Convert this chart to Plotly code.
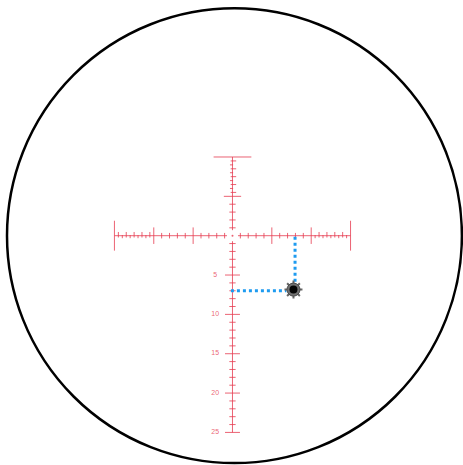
import plotly.graph_objects as go

# ---- data (reticle units, MOA-like) ----
h_extent = 15
v_top = 10
v_bottom = 25
h_minor_ticks = [-9, -8, -7, -6, -4, -3, -2, -1, 1, 2, 3, 4, 6, 7, 8, 9]
h_major_ticks = [-10, -5, 5, 10]
h_fine_ticks = [-14.5, -14, -13.5, -13, -12.5, -12, -11.5, -11, -10.5,
                10.5, 11, 11.5, 12, 12.5, 13, 13.5, 14, 14.5]
v_up_minor = [1, 2, 3, 4]
v_up_major = [5]
v_up_fine = [5.5, 6, 6.5, 7, 7.5, 8, 8.5, 9, 9.5]
v_down_minor = [1, 2, 3, 4, 6, 7, 8, 9, 11, 12, 13, 14, 16, 17, 18, 19, 21, 22, 23, 24]
v_down_major = [5, 10, 15, 20, 25]
v_labels = ["5", "10", "15", "20", "25"]
hit_x, hit_y = 7.75, -6.85
hold_x, hold_y = 7.95, -7

RED = "rgba(230,60,80,0.8)"
BLUE = "#1e9bf0"

fig = go.Figure()

def seg_trace(xs, ys, color=RED, width=1):
    fig.add_trace(go.Scatter(x=xs, y=ys, mode="lines", line=dict(color=color, width=width),
                             hoverinfo="skip", showlegend=False))

xs, ys = [], []
xs += [-h_extent, -0.7, None, 0.7, h_extent, None]
ys += [0, 0, None, 0, 0, None]
xs += [0, 0, None, 0, 0, None]
ys += [v_top, 0.7, None, -0.7, -v_bottom, None]
for e in (-h_extent, h_extent):
    xs += [e, e, None]; ys += [-1.9, 1.9, None]
xs += [-2.4, 2.4, None]; ys += [v_top, v_top, None]
for t in h_minor_ticks:
    xs += [t, t, None]; ys += [-0.35, 0.35, None]
for t in h_major_ticks:
    xs += [t, t, None]; ys += [-1.05, 1.05, None]
for i, t in enumerate(h_fine_ticks):
    h = 0.35 if i % 2 == 0 else 0.2
    off = 0.12 if i % 2 == 0 else -0.12
    xs += [t, t, None]; ys += [off - h, off + h, None]
for t in v_up_minor:
    xs += [-0.4, 0.4, None]; ys += [t, t, None]
for t in v_up_major:
    xs += [-1.1, 1.1, None]; ys += [t, t, None]
for i, t in enumerate(v_up_fine):
    w = 0.35 if i % 2 == 0 else 0.2
    off = 0.12 if i % 2 == 0 else -0.12
    xs += [off - w, off + w, None]; ys += [t, t, None]
for t in v_down_minor:
    xs += [-0.4, 0.4, None]; ys += [-t, -t, None]
for t in v_down_major:
    xs += [-0.95, 0.95, None]; ys += [-t, -t, None]
seg_trace(xs, ys)

fig.add_trace(go.Scatter(x=[0], y=[0], mode="markers", marker=dict(color=RED, size=2),
                         hoverinfo="skip", showlegend=False))

fig.add_trace(go.Scatter(x=[-2.2] * len(v_labels), y=[-t for t in v_down_major], mode="text",
                         text=v_labels, textfont=dict(color=RED, size=7, family="Liberation Sans Narrow, Liberation Sans"),
                         hoverinfo="skip", showlegend=False))

fig.add_trace(go.Scatter(x=[hold_x, hold_x], y=[-0.15, hit_y + 0.85], mode="lines",
                         line=dict(color=BLUE, width=3, dash="dot"), hoverinfo="skip", showlegend=False))
fig.add_trace(go.Scatter(x=[-0.2, hit_x - 0.9], y=[hold_y, hold_y], mode="lines",
                         line=dict(color=BLUE, width=3, dash="dot"), hoverinfo="skip", showlegend=False))

# bullet hole
fig.add_trace(go.Scatter(x=[hit_x], y=[hit_y], mode="markers",
                         marker=dict(symbol="asterisk-open", size=15, color="#666666",
                                     line=dict(color="#666666", width=2)),
                         hoverinfo="skip", showlegend=False))
fig.add_trace(go.Scatter(x=[hit_x], y=[hit_y], mode="markers",
                         marker=dict(symbol="circle", size=13, color="#707070",
                                     line=dict(color="#4a4a4a", width=1)),
                         hoverinfo="skip", showlegend=False))
fig.add_trace(go.Scatter(x=[hit_x], y=[hit_y], mode="markers",
                         marker=dict(symbol="circle", size=8, color="#050505"),
                         hoverinfo="skip", showlegend=False))

fig.add_shape(type="circle", xref="x", yref="y", x0=0.25 - 28.9, x1=0.25 + 28.9,
              y0=-28.9, y1=28.9, line=dict(color="black", width=2.5))

fig.update_layout(
    width=463, height=465, margin=dict(l=0, r=0, t=0, b=0),
    paper_bgcolor="white", plot_bgcolor="white",
    xaxis=dict(range=[-29.54, 29.29], visible=False, fixedrange=True),
    yaxis=dict(range=[-29.14, 29.95], visible=False, fixedrange=True),
)
fig.write_html("out.html", post_script="document.body.style.margin='0';document.body.style.overflow='hidden';",
               config={"displayModeBar": False})
